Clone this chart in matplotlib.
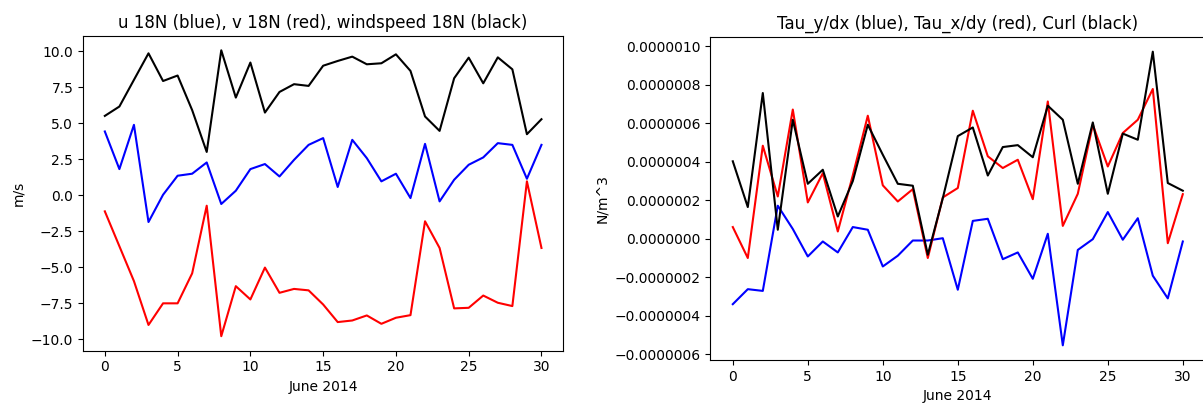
import matplotlib
matplotlib.use("Agg")
import matplotlib.pyplot as plt
from matplotlib.ticker import FuncFormatter

days = list(range(31))

u_18n = [4.42, 1.81, 4.88, -1.86, 0.03, 1.35, 1.49, 2.27, -0.61, 0.31, 1.81, 2.16, 1.30, 2.45, 3.49,
         3.96, 0.57, 3.84, 2.57, 0.96, 1.49, -0.20, 3.56, -0.43, 1.07, 2.11, 2.62, 3.61, 3.49, 1.14, 3.49]
v_18n = [-1.12, -3.54, -5.96, -9.00, -7.50, -7.50, -5.42, -0.73, -9.78, -6.31, -7.23, -5.02, -6.77, -6.50, -6.60,
         -7.58, -8.80, -8.69, -8.34, -8.92, -8.50, -8.32, -1.81, -3.66, -7.85, -7.81, -6.96, -7.46, -7.69, 0.96, -3.66]
ws_18n = [5.50, 6.15, 8.00, 9.84, 7.92, 8.30, 5.90, 3.00, 10.05, 6.77, 9.20, 5.73, 7.16, 7.70, 7.58,
          8.98, 9.31, 9.61, 9.08, 9.15, 9.77, 8.62, 5.46, 4.46, 8.11, 9.54, 7.76, 9.56, 8.73, 4.23, 5.27]

tauy_dx = [-3.40e-7, -2.62e-7, -2.71e-7, 1.72e-7, 0.51e-7, -0.92e-7, -0.14e-7, -0.71e-7, 0.61e-7, 0.47e-7,
           -1.44e-7, -0.88e-7, -0.09e-7, -0.09e-7, 0.03e-7, -2.65e-7, 0.93e-7, 1.04e-7, -1.06e-7, -0.71e-7,
           -2.08e-7, 0.26e-7, -5.54e-7, -0.58e-7, -0.02e-7, 1.39e-7, -0.05e-7, 1.07e-7, -1.92e-7, -3.10e-7, -0.14e-7]
taux_dy = [0.61e-7, -1.00e-7, 4.84e-7, 2.20e-7, 6.72e-7, 1.89e-7, 3.41e-7, 0.38e-7, 3.30e-7, 6.40e-7,
           2.78e-7, 1.94e-7, 2.58e-7, -1.00e-7, 2.15e-7, 2.64e-7, 6.66e-7, 4.29e-7, 3.68e-7, 4.11e-7,
           2.06e-7, 7.14e-7, 0.67e-7, 2.34e-7, 5.93e-7, 3.76e-7, 5.50e-7, 6.19e-7, 7.79e-7, -0.23e-7, 2.32e-7]
curl = [4.03e-7, 1.65e-7, 7.58e-7, 0.47e-7, 6.19e-7, 2.86e-7, 3.59e-7, 1.16e-7, 3.00e-7, 5.93e-7,
        4.37e-7, 2.86e-7, 2.76e-7, -0.83e-7, 2.11e-7, 5.34e-7, 5.79e-7, 3.29e-7, 4.77e-7, 4.87e-7,
        4.24e-7, 6.92e-7, 6.19e-7, 2.86e-7, 6.05e-7, 2.34e-7, 5.47e-7, 5.15e-7, 9.73e-7, 2.90e-7, 2.50e-7]

W, H = 1203, 405
DPI = 100
fig = plt.figure(figsize=(W / DPI, H / DPI), dpi=DPI)

ax1 = fig.add_axes([83 / W, (H - 350.5) / H, 480.3 / W, 314.5 / H])
ax1.plot(days, u_18n, color="b")
ax1.plot(days, v_18n, color="r")
ax1.plot(days, ws_18n, color="k")
ax1.set_title("u 18N (blue), v 18N (red), windspeed 18N (black)")
ax1.set_xlabel("June 2014")
ax1.set_ylabel("m/s")

ax2 = fig.add_axes([710.3 / W, (H - 360) / H, 495 / W, 323 / H])
ax2.plot(days, tauy_dx, color="b")
ax2.plot(days, taux_dy, color="r")
ax2.plot(days, curl, color="k")
ax2.set_title("Tau_y/dx (blue), Tau_x/dy (red), Curl (black)")
ax2.set_xlabel("June 2014")
ax2.set_ylabel("N/m^3")
ax2.yaxis.set_major_formatter(FuncFormatter(lambda v, p: ("%.7f" % v).replace("-", "\u2212") if abs(v) > 1e-12 else "0.0000000"))

fig.savefig("out.png", dpi=DPI)
